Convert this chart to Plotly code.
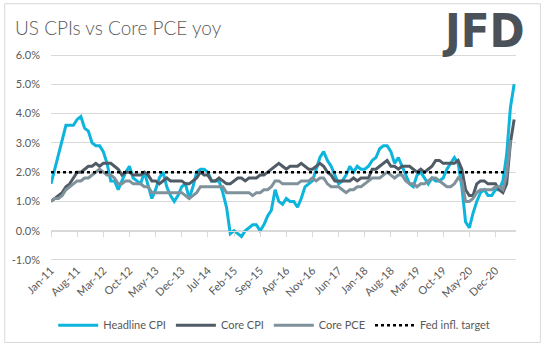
import pandas as pd
import plotly.graph_objects as go

# ---------------- data ----------------
months = [d.strftime("%b-%y") for d in pd.date_range("2011-01-01", "2021-05-01", freq="MS")]

headline_cpi = [
    1.6, 2.1, 2.7, 3.2, 3.6, 3.6, 3.6, 3.8, 3.9, 3.5, 3.4, 3.0,
    2.9, 2.9, 2.7, 2.3, 1.7, 1.7, 1.4, 1.7, 2.0, 2.2, 1.8, 1.7,
    1.6, 2.0, 1.5, 1.1, 1.4, 1.8, 2.0, 1.5, 1.2, 1.0, 1.2, 1.5,
    1.6, 1.1, 1.5, 2.0, 2.1, 2.1, 2.0, 1.7, 1.7, 1.7, 1.3, 0.8,
    -0.1, 0.0, -0.1, -0.2, 0.0, 0.1, 0.2, 0.2, 0.0, 0.2, 0.5, 0.7,
    1.4, 1.0, 0.9, 1.1, 1.0, 1.0, 0.8, 1.1, 1.5, 1.6, 1.7, 2.1,
    2.5, 2.7, 2.4, 2.2, 1.9, 1.6, 1.7, 1.9, 2.2, 2.0, 2.2, 2.1,
    2.1, 2.2, 2.4, 2.5, 2.8, 2.9, 2.9, 2.7, 2.3, 2.5, 2.2, 1.9,
    1.6, 1.5, 1.9, 2.0, 1.8, 1.6, 1.8, 1.7, 1.7, 1.8, 2.1, 2.3,
    2.5, 2.3, 1.5, 0.3, 0.1, 0.6, 1.0, 1.3, 1.4, 1.2, 1.2, 1.4,
    1.4, 1.7, 2.6, 4.2, 5.0,
]

core_cpi = [
    1.0, 1.1, 1.2, 1.3, 1.5, 1.6, 1.8, 2.0, 2.0, 2.1, 2.2, 2.2,
    2.3, 2.2, 2.3, 2.3, 2.3, 2.2, 2.1, 1.9, 2.0, 2.0, 1.9, 1.9,
    1.9, 2.0, 1.9, 1.7, 1.7, 1.6, 1.7, 1.8, 1.7, 1.7, 1.7, 1.7,
    1.6, 1.6, 1.7, 1.8, 2.0, 1.9, 1.9, 1.7, 1.7, 1.8, 1.7, 1.6,
    1.6, 1.7, 1.8, 1.8, 1.7, 1.8, 1.8, 1.8, 1.9, 1.9, 2.0, 2.1,
    2.2, 2.3, 2.2, 2.1, 2.2, 2.2, 2.2, 2.3, 2.2, 2.1, 2.1, 2.2,
    2.3, 2.2, 2.0, 1.9, 1.7, 1.7, 1.7, 1.7, 1.7, 1.8, 1.7, 1.8,
    1.8, 1.8, 2.1, 2.1, 2.2, 2.3, 2.4, 2.2, 2.2, 2.1, 2.2, 2.2,
    2.2, 2.1, 2.0, 2.1, 2.0, 2.1, 2.2, 2.4, 2.4, 2.3, 2.3, 2.3,
    2.3, 2.4, 2.1, 1.4, 1.2, 1.2, 1.6, 1.7, 1.7, 1.6, 1.6, 1.6,
    1.4, 1.3, 1.6, 3.0, 3.8,
]

core_pce = [
    1.0, 1.1, 1.1, 1.2, 1.4, 1.5, 1.6, 1.7, 1.7, 1.8, 1.8, 1.9,
    2.0, 2.1, 2.0, 1.9, 1.9, 1.8, 1.6, 1.6, 1.7, 1.7, 1.6, 1.6,
    1.6, 1.5, 1.5, 1.3, 1.3, 1.3, 1.3, 1.3, 1.3, 1.3, 1.3, 1.3,
    1.2, 1.1, 1.2, 1.3, 1.5, 1.5, 1.5, 1.5, 1.5, 1.5, 1.5, 1.3,
    1.3, 1.3, 1.3, 1.3, 1.3, 1.3, 1.2, 1.3, 1.3, 1.4, 1.4, 1.5,
    1.7, 1.7, 1.6, 1.6, 1.6, 1.6, 1.6, 1.7, 1.7, 1.7, 1.8, 1.7,
    1.8, 1.8, 1.6, 1.5, 1.5, 1.5, 1.4, 1.3, 1.4, 1.4, 1.5, 1.5,
    1.6, 1.7, 1.8, 1.8, 1.8, 1.9, 2.0, 1.9, 1.8, 1.9, 1.9, 1.7,
    1.6, 1.6, 1.5, 1.6, 1.6, 1.7, 1.8, 1.8, 1.7, 1.6, 1.5, 1.5,
    1.6, 1.8, 1.7, 1.0, 1.0, 1.1, 1.3, 1.4, 1.4, 1.4, 1.4, 1.5,
    1.5, 1.4, 1.9, 3.1,
]

fed_target = [2.0] * 123

tick_labels = months[::7]
y_ticks = [-1, 0, 1, 2, 3, 4, 5, 6]
y_tick_text = [f"{v:.1f}%" for v in y_ticks]

# ---------------- styling ----------------
FONT = "Lato"
TXT = "#595959"
GRID = "#d9d9d9"

fig = go.Figure()
fig.add_trace(go.Scatter(x=months[:len(headline_cpi)], y=headline_cpi, name="Headline CPI",
                         mode="lines", line=dict(color="#0db4dc", width=3)))
fig.add_trace(go.Scatter(x=months[:len(core_cpi)], y=core_cpi, name="Core CPI",
                         mode="lines", line=dict(color="#505b66", width=3)))
fig.add_trace(go.Scatter(x=months[:len(core_pce)], y=core_pce, name="Core PCE",
                         mode="lines", line=dict(color="#7f929b", width=3)))
fig.add_trace(go.Scatter(x=months[:len(fed_target)], y=fed_target, name="Fed infl. target",
                         xaxis="x2", mode="lines",
                         line=dict(color="#000000", width=2.5, dash="dot")))

n = len(months)
pad = 0.035
fig.update_layout(
    width=544, height=352,
    margin=dict(l=49, r=28, t=54, b=86),
    paper_bgcolor="white", plot_bgcolor="white",
    font=dict(family=FONT, size=11, color=TXT),
    title=dict(text="US CPIs vs Core PCE yoy", xref="container", yref="container",
               x=15 / 544, y=1 - 28 / 352, xanchor="left", yanchor="middle",
               font=dict(family=FONT, size=19, color=TXT, weight=300)),
    xaxis=dict(type="category", categoryorder="array", categoryarray=months,
               range=[0, n - 0.5], tickvals=tick_labels, ticktext=tick_labels,
               tickangle=-45, showgrid=False, zeroline=False, showline=False,
               ticks="", tickfont=dict(size=11, color=TXT)),
    xaxis2=dict(type="category", categoryorder="array", categoryarray=months,
                overlaying="x", anchor="free", position=(0 + 1 + pad) / (7 + 2 * pad),
                range=[0, n - 0.5], tickvals=tick_labels, showticklabels=False,
                ticks="outside", ticklen=5, tickcolor=GRID, tickwidth=1,
                showline=True, linecolor=GRID, linewidth=1,
                showgrid=False, zeroline=False),
    yaxis=dict(range=[-1 - pad, 6 + pad], tickmode="array", tickvals=y_ticks,
               ticktext=y_tick_text, showgrid=True, gridcolor=GRID, gridwidth=1,
               zeroline=False, showline=False, ticks="", ticklabelstandoff=10,
               tickfont=dict(size=11, color=TXT)),
    legend=dict(orientation="h", x=0.48, xanchor="center", y=-0.31, yanchor="middle",
                itemwidth=40, tracegroupgap=0,
                font=dict(family=FONT, size=11, color=TXT), bgcolor="rgba(0,0,0,0)"),
    showlegend=True,
)

# JFD logo text
fig.add_annotation(text="<b>JFD</b>", xref="paper", yref="paper",
                   x=(527 - 49) / 467, y=(266 - 30) / 212, xanchor="right", yanchor="middle",
                   showarrow=False,
                   font=dict(family="DejaVu Sans Condensed", size=47, color="#4b5158"))

# chart border
fig.add_shape(type="rect", xref="paper", yref="paper",
              x0=(2.5 - 49) / 467, x1=(540.5 - 49) / 467,
              y0=(266 - 349.5) / 212, y1=(266 - 2.5) / 212,
              line=dict(color=GRID, width=1), fillcolor="rgba(0,0,0,0)", layer="above")

fig.write_html("out.html")
